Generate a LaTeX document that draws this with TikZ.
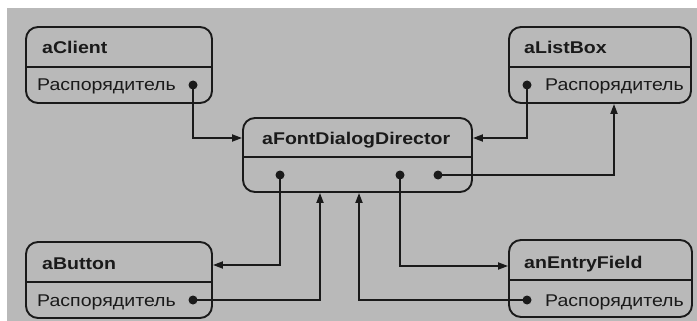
\documentclass[tikz,border=0pt]{standalone}
\usepackage{fontspec}
\setmainfont{Liberation Sans}[FakeStretch=1.15]
\usetikzlibrary{arrows.meta}
\definecolor{bg}{HTML}{B9B9B9}
\definecolor{ink}{HTML}{1A1A1A}
\tikzset{
  obj/.style={draw=ink, line width=1.9pt, rounded corners=12pt, fill=bg, inner sep=0pt},
  divider/.style={draw=ink, line width=1.9pt},
  title/.style={anchor=base west, inner sep=0pt, text=ink, font=\fontsize{17}{20}\selectfont\bfseries},
  field/.style={anchor=base west, inner sep=0pt, text=ink, font=\fontsize{17}{20}\selectfont},
  dot/.style={circle, fill=ink, inner sep=0pt, minimum size=9pt},
  conn/.style={draw=ink, line width=1.9pt, -{Triangle[length=10pt,width=7pt]}}
}
\begin{document}
\begin{tikzpicture}[x=1pt,y=-1pt]
\useasboundingbox (0,0) rectangle (697,321);
\fill[white] (0,0) rectangle (697,321);
\fill[bg] (7,8) rectangle (697,321);

% boxes
\node[obj, minimum width=186pt, minimum height=76pt] (client) at (119,65) {};
\node[obj, minimum width=182pt, minimum height=76pt] (listbox) at (600,65) {};
\node[obj, minimum width=229pt, minimum height=74pt] (dir) at (357.5,155) {};
\node[obj, minimum width=186pt, minimum height=76pt] (button) at (119,280) {};
\node[obj, minimum width=183pt, minimum height=77pt] (entry) at (600.5,278.5) {};

% dividers
\draw[divider] (client.west |- 0,67) -- (client.east |- 0,67);
\draw[divider] (listbox.west |- 0,67) -- (listbox.east |- 0,67);
\draw[divider] (dir.west |- 0,157) -- (dir.east |- 0,157);
\draw[divider] (button.west |- 0,282) -- (button.east |- 0,282);
\draw[divider] (entry.west |- 0,280) -- (entry.east |- 0,280);

% texts
\node[title] (t1) at (42,54) {aClient};
\node[field] (f1) at (37,91) {Распорядитель};
\node[title] (t2) at (524,54) {aListBox};
\node[field] (f2) at (545,91) {Распорядитель};
\node[title] (t3) at (262,145) {aFontDialogDirector};
\node[title] (t4) at (42,269) {aButton};
\node[field] (f4) at (37,306) {Распорядитель};
\node[title] (t5) at (524,268) {anEntryField};
\node[field] (f5) at (545,306) {Распорядитель};

% dots
\node[dot] (cdot) at (193,85) {};
\node[dot] (ldot) at (527,85) {};
\node[dot] (d1) at (280,175) {};
\node[dot] (d2) at (400,175) {};
\node[dot] (d3) at (438,175) {};
\node[dot] (bdot) at (193,300) {};
\node[dot] (edot) at (527,300) {};

% connectors
\draw[conn] (cdot.center) |- (dir.west |- 0,138);
\draw[conn] (ldot.center) |- (dir.east |- 0,138);
\draw[conn] (d3.center) -| (listbox.south -| 614,0);
\draw[conn] (d1.center) |- (button.east |- 0,265);
\draw[conn] (bdot.center) -| (dir.south -| 320,0);
\draw[conn] (d2.center) |- (entry.west |- 0,266);
\draw[conn] (edot.center) -| (dir.south -| 359,0);
\end{tikzpicture}
\end{document}
